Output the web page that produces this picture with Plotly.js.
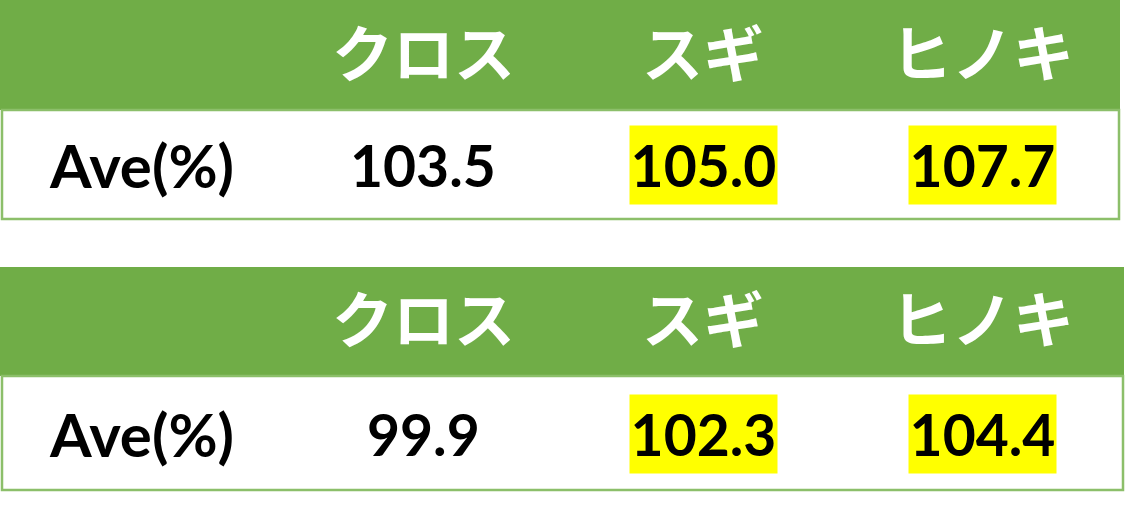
<!DOCTYPE html>
<html>
<head>
<meta charset="utf-8">
<script src="https://cdn.plot.ly/plotly-3.0.1.min.js"></script>
<style>
  html, body { margin: 0; padding: 0; background: #fff; }
  #plot { width: 1127px; height: 511px; }
</style>
</head>
<body>
<div id="plot"></div>
<script>
// table data
const columns = ["クロス", "スギ", "ヒノキ"];
const rowLabel = "Ave(%)";
const table1Values = [103.5, 105.0, 107.7];
const table2Values = [99.9, 102.3, 104.4];
const highlighted = [false, true, true];

const GREEN = "#70AD47";
const colX = [423, 703, 982];
const labelX = 141;

// each table: header band top/bottom, row bottom
const tables = [
  { values: table1Values, top: 0, head: 110, bottom: 220, right: 1120 },
  { values: table2Values, top: 267, head: 376, bottom: 491, right: 1124 }
];

const shapes = [];
const annotations = [];

tables.forEach(t => {
  shapes.push({
    type: "rect", xref: "x", yref: "y",
    x0: 0, x1: t.right, y0: t.top, y1: t.head,
    fillcolor: GREEN, line: { width: 0 }, layer: "below"
  });
  shapes.push({
    type: "rect", xref: "x", yref: "y",
    x0: 2, x1: t.right - 1, y0: t.head, y1: t.bottom - 1,
    fillcolor: "rgba(0,0,0,0)", line: { color: "#8CBF6A", width: 2.5 }
  });

  const headY = (t.top + t.head) / 2 - 5;
  const rowY = (t.head + t.bottom) / 2;

  columns.forEach((c, i) => {
    annotations.push({
      x: colX[i], y: headY, xref: "x", yref: "y",
      text: c, showarrow: false,
      font: { family: "Noto Sans CJK JP", size: 61, color: "#fff", weight: 700 }
    });
    const v = t.values[i].toFixed(1);
    const a = {
      x: colX[i], y: rowY, xref: "x", yref: "y",
      text: "<b>" + v + "</b>", showarrow: false,
      font: { family: "Lato", size: 57, color: "#000" }
    };
    if (highlighted[i]) {
      a.bgcolor = "#FFFF00";
      a.width = 147;
      a.height = 78;
      a.borderpad = 0;
    }
    annotations.push(a);
  });

  annotations.push({
    x: labelX, y: rowY, xref: "x", yref: "y",
    text: "<b>" + rowLabel + "</b>", showarrow: false,
    font: { family: "Lato", size: 60, color: "#000" }
  });
});

const layout = {
  width: 1127, height: 511,
  margin: { t: 0, r: 0, b: 0, l: 0 },
  paper_bgcolor: "#fff", plot_bgcolor: "#fff",
  xaxis: { range: [0, 1127], visible: false, fixedrange: true },
  yaxis: { range: [511, 0], visible: false, fixedrange: true },
  shapes: shapes,
  annotations: annotations,
  showlegend: false
};

Plotly.newPlot("plot", [], layout, { staticPlot: true });
</script>
</body>
</html>
